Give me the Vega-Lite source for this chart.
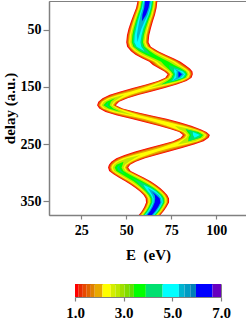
{
"$schema":"https://vega.github.io/schema/vega-lite/v6.json",
"background":"white",
"padding":{"left":1,"top":0,"right":0,"bottom":0},
"bounds":"flush",
"center":true,
"spacing":69,
"config":{
"view":{"stroke":"#808080","strokeWidth":1},
"font":"Liberation Serif",
"axis":{"grid":false,"domainColor":"#808080","domainWidth":1.5,"tickColor":"#808080","tickWidth":1.2,"labelFont":"Liberation Serif","labelFontWeight":"bold","labelColor":"#000","titleFont":"Liberation Serif","titleFontWeight":"bold","titleColor":"#000"}
},
"vconcat":[
{"width":198,"height":214,
"data":{"values":[
{"t":0,"L":1,"lo":56.3,"hi":67.3},{"t":12,"L":1,"lo":55.5,"hi":66.9},{"t":24,"L":1,"lo":54.0,"hi":66.0},{"t":36,"L":1,"lo":52.6,"hi":64.8},{"t":48,"L":1,"lo":51.3,"hi":63.7},{"t":60,"L":1,"lo":50.4,"hi":62.8},{"t":72,"L":1,"lo":50.0,"hi":62.4},{"t":80,"L":1,"lo":50.5,"hi":63.7},{"t":88,"L":1,"lo":52.6,"hi":67.8},{"t":94,"L":1,"lo":55.1,"hi":71.9},{"t":100,"L":1,"lo":58.7,"hi":76.3},{"t":106,"L":1,"lo":62.8,"hi":80.2},{"t":112,"L":1,"lo":64.8,"hi":82.8},{"t":118,"L":1,"lo":68.2,"hi":85.4},{"t":123,"L":1,"lo":71.2,"hi":86.8},{"t":128,"L":1,"lo":73.0,"hi":87.0},{"t":134,"L":1,"lo":71.7,"hi":86.3},{"t":140,"L":1,"lo":67.5,"hi":83.5},{"t":146,"L":1,"lo":60.9,"hi":78.1},{"t":152,"L":1,"lo":53.5,"hi":71.5},{"t":158,"L":1,"lo":46.7,"hi":64.3},{"t":164,"L":1,"lo":40.8,"hi":57.2},{"t":170,"L":1,"lo":36.8,"hi":50.8},{"t":176,"L":1,"lo":34.5,"hi":46.1},{"t":182,"L":1,"lo":33.8,"hi":44.2},{"t":188,"L":1,"lo":35.0,"hi":48.0},{"t":194,"L":1,"lo":38.5,"hi":55.5},{"t":200,"L":1,"lo":44.9,"hi":64.1},{"t":206,"L":1,"lo":52.5,"hi":72.5},{"t":212,"L":1,"lo":60.2,"hi":79.8},{"t":218,"L":1,"lo":67.8,"hi":86.2},{"t":224,"L":1,"lo":74.7,"hi":91.3},{"t":229,"L":1,"lo":79.4,"hi":94.6},{"t":234,"L":1,"lo":81.5,"hi":96.5},{"t":239,"L":1,"lo":80.2,"hi":95.8},{"t":245,"L":1,"lo":76.0,"hi":93.0},{"t":251,"L":1,"lo":69.3,"hi":87.7},{"t":257,"L":1,"lo":61.9,"hi":81.1},{"t":263,"L":1,"lo":54.9,"hi":74.1},{"t":269,"L":1,"lo":49.0,"hi":67.0},{"t":275,"L":1,"lo":44.5,"hi":60.5},{"t":281,"L":1,"lo":41.7,"hi":55.3},{"t":286,"L":1,"lo":40.4,"hi":52.2},{"t":291,"L":1,"lo":39.9,"hi":51.1},{"t":297,"L":1,"lo":40.5,"hi":52.5},{"t":303,"L":1,"lo":42.9,"hi":56.1},{"t":309,"L":1,"lo":46.0,"hi":60.0},{"t":315,"L":1,"lo":49.4,"hi":63.6},{"t":321,"L":1,"lo":52.5,"hi":66.5},{"t":327,"L":1,"lo":55.1,"hi":68.9},{"t":333,"L":1,"lo":57.6,"hi":71.0},{"t":339,"L":1,"lo":59.6,"hi":72.8},{"t":345,"L":1,"lo":60.8,"hi":73.8},{"t":352,"L":1,"lo":61.0,"hi":73.8},{"t":360,"L":1,"lo":60.0,"hi":72.4},{"t":367,"L":1,"lo":58.7,"hi":70.9},{"t":374,"L":1,"lo":57.0,"hi":69.0},
{"t":0,"L":1.5,"lo":56.7,"hi":66.9},{"t":12,"L":1.5,"lo":55.9,"hi":66.5},{"t":24,"L":1.5,"lo":54.4,"hi":65.6},{"t":36,"L":1.5,"lo":53.1,"hi":64.3},{"t":48,"L":1.5,"lo":51.8,"hi":63.2},{"t":60,"L":1.5,"lo":50.9,"hi":62.3},{"t":72,"L":1.5,"lo":50.5,"hi":61.9},{"t":80,"L":1.5,"lo":51.1,"hi":63.1},{"t":88,"L":1.5,"lo":53.3,"hi":67.1},{"t":94,"L":1.5,"lo":56.0,"hi":71.1},{"t":100,"L":1.5,"lo":59.6,"hi":75.4},{"t":106,"L":1.5,"lo":63.7,"hi":79.3},{"t":112,"L":1.5,"lo":65.7,"hi":81.9},{"t":118,"L":1.5,"lo":69.0,"hi":84.6},{"t":123,"L":1.5,"lo":71.8,"hi":86.2},{"t":128,"L":1.5,"lo":73.5,"hi":86.5},{"t":134,"L":1.5,"lo":72.3,"hi":85.7},{"t":140,"L":1.5,"lo":68.3,"hi":82.7},{"t":146,"L":1.5,"lo":62.0,"hi":77.0},{"t":152,"L":1.5,"lo":55.0,"hi":70.0},{"t":158,"L":1.5,"lo":48.2,"hi":62.8},{"t":164,"L":1.5,"lo":42.1,"hi":55.9},{"t":170,"L":1.5,"lo":37.7,"hi":49.9},{"t":176,"L":1.5,"lo":35.1,"hi":45.5},{"t":182,"L":1.5,"lo":34.3,"hi":43.7},{"t":188,"L":1.5,"lo":35.7,"hi":47.3},{"t":194,"L":1.5,"lo":39.6,"hi":54.4},{"t":200,"L":1.5,"lo":46.5,"hi":62.5},{"t":206,"L":1.5,"lo":54.2,"hi":70.8},{"t":212,"L":1.5,"lo":61.8,"hi":78.2},{"t":218,"L":1.5,"lo":69.1,"hi":84.9},{"t":224,"L":1.5,"lo":75.6,"hi":90.4},{"t":229,"L":1.5,"lo":80.1,"hi":93.9},{"t":234,"L":1.5,"lo":82.1,"hi":95.9},{"t":239,"L":1.5,"lo":80.9,"hi":95.1},{"t":245,"L":1.5,"lo":77.0,"hi":92.0},{"t":251,"L":1.5,"lo":70.7,"hi":86.3},{"t":257,"L":1.5,"lo":63.6,"hi":79.5},{"t":263,"L":1.5,"lo":56.6,"hi":72.5},{"t":269,"L":1.5,"lo":50.4,"hi":65.6},{"t":275,"L":1.5,"lo":45.6,"hi":59.4},{"t":281,"L":1.5,"lo":42.5,"hi":54.5},{"t":286,"L":1.5,"lo":41.0,"hi":51.6},{"t":291,"L":1.5,"lo":40.5,"hi":50.6},{"t":297,"L":1.5,"lo":41.1,"hi":51.9},{"t":303,"L":1.5,"lo":43.6,"hi":55.4},{"t":309,"L":1.5,"lo":46.7,"hi":59.3},{"t":315,"L":1.5,"lo":50.1,"hi":62.9},{"t":321,"L":1.5,"lo":53.2,"hi":65.9},{"t":327,"L":1.5,"lo":55.7,"hi":68.3},{"t":333,"L":1.5,"lo":58.1,"hi":70.5},{"t":339,"L":1.5,"lo":60.1,"hi":72.3},{"t":345,"L":1.5,"lo":61.3,"hi":73.3},{"t":352,"L":1.5,"lo":61.5,"hi":73.3},{"t":360,"L":1.5,"lo":60.5,"hi":71.9},{"t":367,"L":1.5,"lo":59.1,"hi":70.5},{"t":374,"L":1.5,"lo":57.4,"hi":68.6},
{"t":0,"L":1.85,"lo":57.1,"hi":66.5},{"t":12,"L":1.85,"lo":56.4,"hi":66.0},{"t":24,"L":1.85,"lo":54.9,"hi":65.1},{"t":36,"L":1.85,"lo":53.6,"hi":63.8},{"t":48,"L":1.85,"lo":52.4,"hi":62.7},{"t":60,"L":1.85,"lo":51.5,"hi":61.7},{"t":72,"L":1.85,"lo":51.1,"hi":61.3},{"t":80,"L":1.85,"lo":51.7,"hi":62.5},{"t":88,"L":1.85,"lo":54.1,"hi":66.3},{"t":94,"L":1.85,"lo":56.9,"hi":70.1},{"t":100,"L":1.85,"lo":60.7,"hi":74.3},{"t":106,"L":1.85,"lo":64.8,"hi":78.2},{"t":112,"L":1.85,"lo":66.8,"hi":80.8},{"t":118,"L":1.85,"lo":69.9,"hi":83.7},{"t":123,"L":1.85,"lo":72.5,"hi":85.5},{"t":128,"L":1.85,"lo":74.1,"hi":85.9},{"t":134,"L":1.85,"lo":72.9,"hi":85.1},{"t":140,"L":1.85,"lo":69.2,"hi":81.8},{"t":146,"L":1.85,"lo":63.4,"hi":75.6},{"t":152,"L":1.85,"lo":56.9,"hi":68.1},{"t":158,"L":1.85,"lo":50.2,"hi":60.8},{"t":164,"L":1.85,"lo":43.7,"hi":54.3},{"t":170,"L":1.85,"lo":38.8,"hi":48.8},{"t":176,"L":1.85,"lo":35.9,"hi":44.7},{"t":182,"L":1.85,"lo":34.9,"hi":43.1},{"t":188,"L":1.85,"lo":36.5,"hi":46.5},{"t":194,"L":1.85,"lo":41.0,"hi":53.0},{"t":200,"L":1.85,"lo":48.5,"hi":60.5},{"t":206,"L":1.85,"lo":56.5,"hi":68.5},{"t":212,"L":1.85,"lo":63.9,"hi":76.1},{"t":218,"L":1.85,"lo":70.7,"hi":83.3},{"t":224,"L":1.85,"lo":76.8,"hi":89.2},{"t":229,"L":1.85,"lo":80.9,"hi":93.1},{"t":234,"L":1.85,"lo":82.8,"hi":95.2},{"t":239,"L":1.85,"lo":81.7,"hi":94.3},{"t":245,"L":1.85,"lo":78.1,"hi":90.9},{"t":251,"L":1.85,"lo":72.4,"hi":84.6},{"t":257,"L":1.85,"lo":65.7,"hi":77.3},{"t":263,"L":1.85,"lo":58.7,"hi":70.3},{"t":269,"L":1.85,"lo":52.2,"hi":63.8},{"t":275,"L":1.85,"lo":46.8,"hi":58.2},{"t":281,"L":1.85,"lo":43.4,"hi":53.6},{"t":286,"L":1.85,"lo":41.7,"hi":50.9},{"t":291,"L":1.85,"lo":41.1,"hi":49.9},{"t":297,"L":1.85,"lo":41.8,"hi":51.2},{"t":303,"L":1.85,"lo":44.3,"hi":54.7},{"t":309,"L":1.85,"lo":47.5,"hi":58.5},{"t":315,"L":1.85,"lo":50.9,"hi":62.1},{"t":321,"L":1.85,"lo":53.9,"hi":65.1},{"t":327,"L":1.85,"lo":56.4,"hi":67.6},{"t":333,"L":1.85,"lo":58.7,"hi":69.9},{"t":339,"L":1.85,"lo":60.7,"hi":71.7},{"t":345,"L":1.85,"lo":61.8,"hi":72.8},{"t":352,"L":1.85,"lo":62.0,"hi":72.8},{"t":360,"L":1.85,"lo":60.9,"hi":71.5},{"t":367,"L":1.85,"lo":59.6,"hi":70.0},{"t":374,"L":1.85,"lo":57.9,"hi":68.1},
{"t":0,"L":2.13,"lo":57.5,"hi":66.1},{"t":12,"L":2.13,"lo":56.8,"hi":65.6},{"t":24,"L":2.13,"lo":55.4,"hi":64.6},{"t":36,"L":2.13,"lo":54.1,"hi":63.3},{"t":48,"L":2.13,"lo":52.9,"hi":62.1},{"t":60,"L":2.13,"lo":52.0,"hi":61.2},{"t":72,"L":2.13,"lo":51.6,"hi":60.8},{"t":80,"L":2.13,"lo":52.3,"hi":61.9},{"t":88,"L":2.13,"lo":54.9,"hi":65.5},{"t":94,"L":2.13,"lo":57.9,"hi":69.1},{"t":100,"L":2.13,"lo":61.8,"hi":73.2},{"t":106,"L":2.13,"lo":65.8,"hi":77.2},{"t":112,"L":2.13,"lo":67.8,"hi":79.8},{"t":118,"L":2.13,"lo":70.7,"hi":82.9},{"t":123,"L":2.13,"lo":73.2,"hi":84.8},{"t":128,"L":2.13,"lo":74.6,"hi":85.4},{"t":134,"L":2.13,"lo":73.6,"hi":84.5},{"t":140,"L":2.13,"lo":70.1,"hi":80.9},{"t":146,"L":2.13,"lo":64.9,"hi":74.1},{"t":152,"L":2.13,"lo":59.2,"hi":65.8},{"t":158,"L":2.13,"lo":52.8,"hi":58.2},{"t":164,"L":2.13,"lo":45.6,"hi":52.4},{"t":170,"L":2.13,"lo":39.9,"hi":47.7},{"t":176,"L":2.13,"lo":36.6,"hi":44.0},{"t":182,"L":2.13,"lo":35.5,"hi":42.5},{"t":188,"L":2.13,"lo":37.3,"hi":45.7},{"t":194,"L":2.13,"lo":42.4,"hi":51.6},{"t":200,"L":2.13,"lo":51.0,"hi":58.0},{"t":206,"L":2.13,"lo":59.5,"hi":65.5},{"t":212,"L":2.13,"lo":66.4,"hi":73.6},{"t":218,"L":2.13,"lo":72.5,"hi":81.5},{"t":224,"L":2.13,"lo":77.9,"hi":88.1},{"t":229,"L":2.13,"lo":81.7,"hi":92.3},{"t":234,"L":2.13,"lo":83.5,"hi":94.5},{"t":239,"L":2.13,"lo":82.5,"hi":93.5},{"t":245,"L":2.13,"lo":79.3,"hi":89.8},{"t":251,"L":2.13,"lo":74.3,"hi":82.7},{"t":257,"L":2.13,"lo":68.6,"hi":74.4},{"t":263,"L":2.13,"lo":61.6,"hi":67.4},{"t":269,"L":2.13,"lo":54.2,"hi":61.8},{"t":275,"L":2.13,"lo":48.2,"hi":56.8},{"t":281,"L":2.13,"lo":44.3,"hi":52.7},{"t":286,"L":2.13,"lo":42.4,"hi":50.2},{"t":291,"L":2.13,"lo":41.7,"hi":49.3},{"t":297,"L":2.13,"lo":42.5,"hi":50.5},{"t":303,"L":2.13,"lo":45.1,"hi":53.9},{"t":309,"L":2.13,"lo":48.3,"hi":57.7},{"t":315,"L":2.13,"lo":51.7,"hi":61.3},{"t":321,"L":2.13,"lo":54.6,"hi":64.4},{"t":327,"L":2.13,"lo":57.0,"hi":67.0},{"t":333,"L":2.13,"lo":59.3,"hi":69.3},{"t":339,"L":2.13,"lo":61.2,"hi":71.2},{"t":345,"L":2.13,"lo":62.3,"hi":72.3},{"t":352,"L":2.13,"lo":62.4,"hi":72.4},{"t":360,"L":2.13,"lo":61.4,"hi":71.0},{"t":367,"L":2.13,"lo":60.1,"hi":69.5},{"t":374,"L":2.13,"lo":58.4,"hi":67.6},
{"t":0,"L":2.7,"lo":58.0,"hi":65.6},{"t":12,"L":2.7,"lo":57.3,"hi":65.1},{"t":24,"L":2.7,"lo":55.9,"hi":64.1},{"t":36,"L":2.7,"lo":54.7,"hi":62.8},{"t":48,"L":2.7,"lo":53.5,"hi":61.5},{"t":60,"L":2.7,"lo":52.6,"hi":60.6},{"t":72,"L":2.7,"lo":52.3,"hi":60.1},{"t":80,"L":2.7,"lo":53.1,"hi":61.1},{"t":88,"L":2.7,"lo":55.9,"hi":64.5},{"t":94,"L":2.7,"lo":59.1,"hi":67.9},{"t":100,"L":2.7,"lo":63.2,"hi":71.8},{"t":106,"L":2.7,"lo":67.2,"hi":75.8},{"t":112,"L":2.7,"lo":69.1,"hi":78.5},{"t":118,"L":2.7,"lo":71.8,"hi":81.8},{"t":123,"L":2.7,"lo":74.0,"hi":84.0},{"t":128,"L":2.7,"lo":75.3,"hi":84.7},{"t":134,"L":2.7,"lo":74.3,"hi":83.7},{"t":140,"L":2.7,"lo":71.2,"hi":79.8},{"t":146,"L":2.7,"lo":67.3,"hi":71.7},{"t":152,"L":2.7,"lo":62.5,"hi":62.5},{"t":164,"L":2.7,"lo":49.0,"hi":49.0},{"t":170,"L":2.7,"lo":41.6,"hi":46.0},{"t":176,"L":2.7,"lo":37.6,"hi":43.1},{"t":182,"L":2.7,"lo":36.2,"hi":41.8},{"t":188,"L":2.7,"lo":38.4,"hi":44.6},{"t":194,"L":2.7,"lo":44.8,"hi":49.2},{"t":200,"L":2.7,"lo":54.5,"hi":54.5},{"t":218,"L":2.7,"lo":77.0,"hi":77.0},{"t":224,"L":2.7,"lo":79.4,"hi":86.6},{"t":229,"L":2.7,"lo":82.7,"hi":91.3},{"t":234,"L":2.7,"lo":84.3,"hi":93.7},{"t":239,"L":2.7,"lo":83.4,"hi":92.6},{"t":245,"L":2.7,"lo":80.8,"hi":88.2},{"t":251,"L":2.7,"lo":78.5,"hi":78.5},{"t":269,"L":2.7,"lo":58.0,"hi":58.0},{"t":275,"L":2.7,"lo":50.4,"hi":54.6},{"t":281,"L":2.7,"lo":45.5,"hi":51.5},{"t":286,"L":2.7,"lo":43.3,"hi":49.3},{"t":291,"L":2.7,"lo":42.5,"hi":48.5},{"t":297,"L":2.7,"lo":43.3,"hi":49.7},{"t":303,"L":2.7,"lo":46.1,"hi":52.9},{"t":309,"L":2.7,"lo":49.4,"hi":56.6},{"t":315,"L":2.7,"lo":52.7,"hi":60.3},{"t":321,"L":2.7,"lo":55.5,"hi":63.5},{"t":327,"L":2.7,"lo":57.8,"hi":66.2},{"t":333,"L":2.7,"lo":60.0,"hi":68.6},{"t":339,"L":2.7,"lo":61.8,"hi":70.6},{"t":345,"L":2.7,"lo":62.9,"hi":71.7},{"t":352,"L":2.7,"lo":63.0,"hi":71.8},{"t":360,"L":2.7,"lo":61.9,"hi":70.5},{"t":367,"L":2.7,"lo":60.6,"hi":69.0},{"t":374,"L":2.7,"lo":58.9,"hi":67.1},
{"t":0,"L":3.42,"lo":58.6,"hi":65.0},{"t":12,"L":3.42,"lo":57.9,"hi":64.5},{"t":24,"L":3.42,"lo":56.5,"hi":63.5},{"t":36,"L":3.42,"lo":55.3,"hi":62.1},{"t":48,"L":3.42,"lo":54.2,"hi":60.8},{"t":60,"L":3.42,"lo":53.4,"hi":59.8},{"t":72,"L":3.42,"lo":53.1,"hi":59.3},{"t":80,"L":3.42,"lo":54.0,"hi":60.2},{"t":88,"L":3.42,"lo":57.2,"hi":63.2},{"t":94,"L":3.42,"lo":60.9,"hi":66.1},{"t":100,"L":3.42,"lo":65.3,"hi":69.7},{"t":106,"L":3.42,"lo":69.4,"hi":73.6},{"t":112,"L":3.42,"lo":71.0,"hi":76.6},{"t":118,"L":3.42,"lo":73.1,"hi":80.5},{"t":123,"L":3.42,"lo":74.9,"hi":83.1},{"t":128,"L":3.42,"lo":76.0,"hi":84.0},{"t":134,"L":3.42,"lo":75.1,"hi":82.9},{"t":140,"L":3.42,"lo":72.8,"hi":78.2},{"t":146,"L":3.42,"lo":69.5,"hi":69.5},{"t":170,"L":3.42,"lo":43.8,"hi":43.8},{"t":176,"L":3.42,"lo":39.1,"hi":41.5},{"t":182,"L":3.42,"lo":37.3,"hi":40.8},{"t":188,"L":3.42,"lo":40.2,"hi":42.8},{"t":194,"L":3.42,"lo":47.0,"hi":47.0},{"t":224,"L":3.42,"lo":83.0,"hi":83.0},{"t":229,"L":3.42,"lo":84.0,"hi":90.0},{"t":234,"L":3.42,"lo":85.3,"hi":92.7},{"t":239,"L":3.42,"lo":84.6,"hi":91.4},{"t":245,"L":3.42,"lo":84.5,"hi":84.5},{"t":281,"L":3.42,"lo":48.5,"hi":48.5},{"t":286,"L":3.42,"lo":44.6,"hi":48.0},{"t":291,"L":3.42,"lo":43.6,"hi":47.4},{"t":297,"L":3.42,"lo":44.5,"hi":48.5},{"t":303,"L":3.42,"lo":47.5,"hi":51.5},{"t":309,"L":3.42,"lo":50.8,"hi":55.2},{"t":315,"L":3.42,"lo":54.1,"hi":58.9},{"t":321,"L":3.42,"lo":56.6,"hi":62.4},{"t":327,"L":3.42,"lo":58.7,"hi":65.3},{"t":333,"L":3.42,"lo":60.8,"hi":67.8},{"t":339,"L":3.42,"lo":62.5,"hi":69.9},{"t":345,"L":3.42,"lo":63.5,"hi":71.1},{"t":352,"L":3.42,"lo":63.6,"hi":71.2},{"t":360,"L":3.42,"lo":62.5,"hi":69.9},{"t":367,"L":3.42,"lo":61.2,"hi":68.4},{"t":374,"L":3.42,"lo":59.5,"hi":66.5},
{"t":0,"L":3.91,"lo":58.9,"hi":64.7},{"t":12,"L":3.91,"lo":58.2,"hi":64.2},{"t":24,"L":3.91,"lo":57.0,"hi":63.0},{"t":36,"L":3.91,"lo":55.8,"hi":61.6},{"t":48,"L":3.91,"lo":54.7,"hi":60.3},{"t":60,"L":3.91,"lo":53.9,"hi":59.3},{"t":72,"L":3.91,"lo":53.6,"hi":58.8},{"t":80,"L":3.91,"lo":54.6,"hi":59.6},{"t":88,"L":3.91,"lo":58.3,"hi":62.1},{"t":94,"L":3.91,"lo":63.5,"hi":63.5},{"t":112,"L":3.91,"lo":73.8,"hi":73.8},{"t":118,"L":3.91,"lo":74.2,"hi":79.4},{"t":123,"L":3.91,"lo":75.6,"hi":82.4},{"t":128,"L":3.91,"lo":76.5,"hi":83.5},{"t":134,"L":3.91,"lo":75.7,"hi":82.3},{"t":140,"L":3.91,"lo":74.5,"hi":76.5},{"t":146,"L":3.91,"lo":69.5,"hi":69.5},{"t":176,"L":3.91,"lo":40.3,"hi":40.3},{"t":182,"L":3.91,"lo":38.3,"hi":39.7},{"t":188,"L":3.91,"lo":41.5,"hi":41.5},{"t":224,"L":3.91,"lo":83.0,"hi":83.0},{"t":229,"L":3.91,"lo":85.1,"hi":88.9},{"t":234,"L":3.91,"lo":86.0,"hi":92.0},{"t":239,"L":3.91,"lo":85.5,"hi":90.5},{"t":245,"L":3.91,"lo":84.5,"hi":84.5},{"t":286,"L":3.91,"lo":46.3,"hi":46.3},{"t":291,"L":3.91,"lo":44.8,"hi":46.2},{"t":297,"L":3.91,"lo":45.7,"hi":47.3},{"t":303,"L":3.91,"lo":49.5,"hi":49.5},{"t":309,"L":3.91,"lo":53.0,"hi":53.0},{"t":315,"L":3.91,"lo":55.6,"hi":57.4},{"t":321,"L":3.91,"lo":57.5,"hi":61.5},{"t":327,"L":3.91,"lo":59.4,"hi":64.6},{"t":333,"L":3.91,"lo":61.3,"hi":67.3},{"t":339,"L":3.91,"lo":63.0,"hi":69.4},{"t":345,"L":3.91,"lo":64.0,"hi":70.7},{"t":352,"L":3.91,"lo":64.0,"hi":70.8},{"t":360,"L":3.91,"lo":62.9,"hi":69.5},{"t":367,"L":3.91,"lo":61.6,"hi":68.0},{"t":374,"L":3.91,"lo":59.9,"hi":66.1},
{"t":0,"L":4.6,"lo":59.4,"hi":64.2},{"t":12,"L":4.6,"lo":58.8,"hi":63.7},{"t":24,"L":4.6,"lo":57.5,"hi":62.5},{"t":36,"L":4.6,"lo":56.4,"hi":61.0},{"t":48,"L":4.6,"lo":55.5,"hi":59.5},{"t":60,"L":4.6,"lo":54.7,"hi":58.5},{"t":72,"L":4.6,"lo":54.5,"hi":57.9},{"t":80,"L":4.6,"lo":55.8,"hi":58.4},{"t":88,"L":4.6,"lo":60.2,"hi":60.2},{"t":118,"L":4.6,"lo":76.8,"hi":76.8},{"t":123,"L":4.6,"lo":76.6,"hi":81.4},{"t":128,"L":4.6,"lo":77.2,"hi":82.8},{"t":134,"L":4.6,"lo":76.6,"hi":81.4},{"t":140,"L":4.6,"lo":75.5,"hi":75.5},{"t":229,"L":4.6,"lo":87.0,"hi":87.0},{"t":234,"L":4.6,"lo":87.1,"hi":90.9},{"t":239,"L":4.6,"lo":88.0,"hi":88.0},{"t":321,"L":4.6,"lo":59.5,"hi":59.5},{"t":327,"L":4.6,"lo":60.6,"hi":63.4},{"t":333,"L":4.6,"lo":62.1,"hi":66.5},{"t":339,"L":4.6,"lo":63.7,"hi":68.7},{"t":345,"L":4.6,"lo":64.6,"hi":70.0},{"t":352,"L":4.6,"lo":64.6,"hi":70.3},{"t":360,"L":4.6,"lo":63.4,"hi":69.0},{"t":367,"L":4.6,"lo":62.1,"hi":67.5},{"t":374,"L":4.6,"lo":60.4,"hi":65.6},
{"t":0,"L":5.27,"lo":59.9,"hi":63.7},{"t":12,"L":5.27,"lo":59.3,"hi":63.1},{"t":24,"L":5.27,"lo":58.1,"hi":61.9},{"t":36,"L":5.27,"lo":57.2,"hi":60.2},{"t":48,"L":5.27,"lo":56.5,"hi":58.5},{"t":60,"L":5.27,"lo":55.9,"hi":57.3},{"t":72,"L":5.27,"lo":56.2,"hi":56.2},{"t":118,"L":5.27,"lo":76.8,"hi":76.8},{"t":123,"L":5.27,"lo":78.1,"hi":79.9},{"t":128,"L":5.27,"lo":77.9,"hi":82.1},{"t":134,"L":5.27,"lo":77.8,"hi":80.2},{"t":140,"L":5.27,"lo":75.5,"hi":75.5},{"t":327,"L":5.27,"lo":62.0,"hi":62.0},{"t":333,"L":5.27,"lo":63.2,"hi":65.4},{"t":339,"L":5.27,"lo":64.4,"hi":68.0},{"t":345,"L":5.27,"lo":65.2,"hi":69.4},{"t":352,"L":5.27,"lo":65.1,"hi":69.7},{"t":360,"L":5.27,"lo":64.0,"hi":68.4},{"t":367,"L":5.27,"lo":62.7,"hi":66.9},{"t":374,"L":5.27,"lo":61.0,"hi":65.0},
{"t":0,"L":5.97,"lo":60.5,"hi":63.1},{"t":12,"L":5.97,"lo":60.0,"hi":62.4},{"t":24,"L":5.97,"lo":59.0,"hi":61.0},{"t":36,"L":5.97,"lo":58.7,"hi":58.7},{"t":123,"L":5.97,"lo":79.0,"hi":79.0},{"t":128,"L":5.97,"lo":79.0,"hi":81.0},{"t":134,"L":5.97,"lo":79.0,"hi":79.0},{"t":333,"L":5.97,"lo":64.3,"hi":64.3},{"t":339,"L":5.97,"lo":65.8,"hi":66.6},{"t":345,"L":5.97,"lo":66.1,"hi":68.6},{"t":352,"L":5.97,"lo":65.8,"hi":69.0},{"t":360,"L":5.97,"lo":64.7,"hi":67.7},{"t":367,"L":5.97,"lo":63.4,"hi":66.2},{"t":374,"L":5.97,"lo":61.7,"hi":64.3}
]},
"mark":{"type":"area","orient":"horizontal","interpolate":"linear"},
"encoding":{
"y":{"field":"t","type":"quantitative","scale":{"domain":[0,374],"reverse":true,"nice":false,"zero":false},"axis":{"values":[50,150,250,350],"tickSize":6,"labelPadding":2,"labelFontSize":14,"title":"delay (a.u.)","titleFontSize":15,"titlePadding":3}},
"x":{"field":"lo","type":"quantitative","scale":{"domain":[7.1,117.1],"nice":false,"zero":false},"axis":{"values":[25,50,75,100],"tickSize":4,"labelPadding":4,"labelFontSize":14,"title":"E\u00a0 (eV)","titleFontSize":15,"titlePadding":10}},
"x2":{"field":"hi"},
"color":{"field":"L","type":"quantitative","scale":{"type":"threshold","domain":[1.15,1.32,1.48,1.65,1.81,2.13,2.47,2.66,2.85,3.04,3.23,3.42,3.91,4.6,5.27,5.5,5.74,5.97,6.65],"range":["#ff0000","#e82c00","#e84800","#e06400","#e08000","#e8a800","#ffff00","#d4ee00","#bce800","#a0e000","#80dc00","#5ce000","#00ff00","#00e070","#00ffff","#00b4d0","#009cc4","#0080b8","#0000ff","#6800c0"]},"legend":null}
}
},
{"width":146,"height":13,
"data":{"values":[{"L":1,"L2":1.15},{"L":1.15,"L2":1.32},{"L":1.32,"L2":1.48},{"L":1.48,"L2":1.65},{"L":1.65,"L2":1.81},{"L":1.81,"L2":2.13},{"L":2.13,"L2":2.47},{"L":2.47,"L2":2.66},{"L":2.66,"L2":2.85},{"L":2.85,"L2":3.04},{"L":3.04,"L2":3.23},{"L":3.23,"L2":3.42},{"L":3.42,"L2":3.91},{"L":3.91,"L2":4.6},{"L":4.6,"L2":5.27},{"L":5.27,"L2":5.5},{"L":5.5,"L2":5.74},{"L":5.74,"L2":5.97},{"L":5.97,"L2":6.65},{"L":6.65,"L2":7}]},
"mark":{"type":"rect"},
"encoding":{
"x":{"field":"L","type":"quantitative","scale":{"domain":[1,7],"nice":false,"zero":false},"axis":{"values":[1,3,5,7],"format":".1f","tickSize":4,"labelPadding":4,"labelFontSize":15,"labelFlush":false,"domain":false,"title":null}},
"x2":{"field":"L2"},
"color":{"field":"L","type":"quantitative","scale":{"type":"threshold","domain":[1.15,1.32,1.48,1.65,1.81,2.13,2.47,2.66,2.85,3.04,3.23,3.42,3.91,4.6,5.27,5.5,5.74,5.97,6.65],"range":["#ff0000","#e82c00","#e84800","#e06400","#e08000","#e8a800","#ffff00","#d4ee00","#bce800","#a0e000","#80dc00","#5ce000","#00ff00","#00e070","#00ffff","#00b4d0","#009cc4","#0080b8","#0000ff","#6800c0"]},"legend":null}
}
}
]
}
